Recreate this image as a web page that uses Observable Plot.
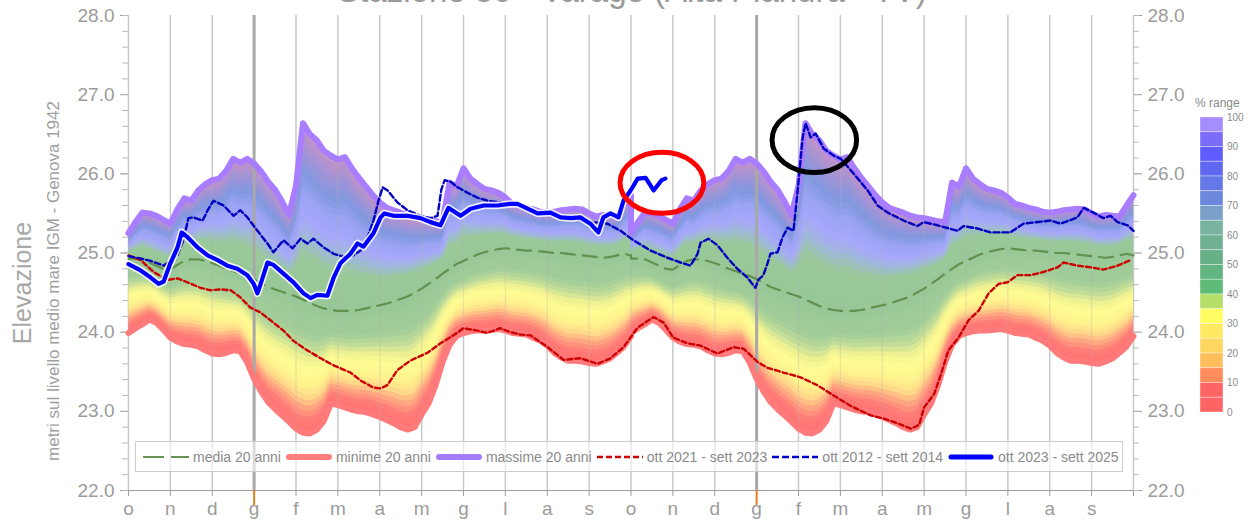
<!DOCTYPE html>
<html><head><meta charset="utf-8">
<script src="https://cdn.jsdelivr.net/npm/d3@7"></script>
<script src="https://cdn.jsdelivr.net/npm/@observablehq/plot@0.6"></script>
<style>
body{margin:0;background:#fff;font-family:'Liberation Sans',Arial,sans-serif;}
#wrap{position:relative;width:1251px;height:522px;overflow:hidden;background:#fff;}
#wrap > svg.plot{position:absolute;left:0;top:0;}
.ov{position:absolute;left:0;top:0;pointer-events:none;}
#legend{position:absolute;left:135px;top:441px;width:988px;height:31px;border:1px solid #cdcdcd;background:rgba(255,255,255,0.6);display:flex;align-items:center;padding-left:7px;box-sizing:border-box;font-size:14px;color:#8a8a8a;white-space:nowrap;}
#legend .it{display:flex;align-items:center;margin-right:5px;}
#legend svg{margin-right:4px;}
</style></head>
<body><div id="wrap"></div>
<script>
// ---------- data ----------
const monthLabels = ["o","n","d","g","f","m","a","m","g","l","a","s","o","n","d","g","f","m","a","m","g","l","a","s"];
const monthTicks = d3.range(0, 25);
const janTicks = [3, 15];
const yTicks = [22, 23, 24, 25, 26, 27, 28];
const yMinor = d3.range(22, 28.001, 0.2);

// 20-year climatology (one hydrological year, every 1/6 month), repeated on both years
const climMonths = d3.range(0, 73).map(k => k / 6);
const climMax = [25.25,25.39,25.51,25.50,25.47,25.42,25.37,25.55,25.69,25.66,25.79,25.87,25.92,25.94,26.04,26.19,26.14,26.19,26.13,26.03,25.90,25.80,25.65,25.48,25.85,26.64,26.50,26.42,26.29,26.23,26.18,26.21,26.07,25.95,25.84,25.73,25.64,25.57,25.54,25.51,25.47,25.45,25.44,25.42,25.40,25.39,25.89,25.84,26.07,25.94,25.87,25.81,25.79,25.76,25.70,25.62,25.60,25.57,25.55,25.52,25.51,25.52,25.54,25.55,25.56,25.55,25.50,25.46,25.48,25.47,25.46,25.60,25.73];
const climMin = [23.99,24.05,24.10,24.16,24.12,24.03,23.93,23.88,23.85,23.84,23.82,23.77,23.73,23.72,23.74,23.77,23.76,23.62,23.41,23.25,23.12,23.03,22.95,22.87,22.78,22.73,22.72,22.77,22.88,23.10,23.08,23.05,23.02,23.00,22.99,22.96,22.93,22.89,22.85,22.80,22.77,22.80,22.96,23.10,23.33,23.62,23.84,23.95,23.99,24.01,24.02,24.02,24.03,24.04,24.02,23.99,23.98,23.97,23.93,23.89,23.83,23.74,23.68,23.64,23.64,23.63,23.61,23.60,23.63,23.67,23.74,23.82,23.95];
const climMean = [24.93,24.93,24.92,24.88,24.84,24.80,24.79,24.85,24.90,24.92,24.92,24.90,24.87,24.84,24.80,24.77,24.74,24.71,24.67,24.62,24.57,24.54,24.51,24.48,24.45,24.41,24.37,24.33,24.30,24.28,24.27,24.27,24.27,24.28,24.30,24.32,24.34,24.36,24.39,24.42,24.45,24.50,24.55,24.61,24.67,24.74,24.80,24.86,24.90,24.94,24.98,25.01,25.03,25.05,25.06,25.05,25.04,25.03,25.03,25.02,25.01,25.00,25.00,24.99,24.98,24.97,24.96,24.95,24.94,24.95,24.97,24.99,24.97];

// ott 2021 - sett 2023
const y2123M = [0,0.29,0.60,0.93,1.17,1.41,1.72,1.96,2.20,2.44,2.67,2.91,3.15,3.39,3.70,3.94,4.27,4.59,4.90,5.30,5.54,5.85,6.02,6.18,6.42,6.73,7.14,7.45,7.76,8.00,8.33,8.57,8.88,9.12,9.36,9.60,10.01,10.39,10.79,11.20,11.51,11.82,12.16,12.54,12.78,13.01,13.35,13.66,14.06,14.45,14.69,15.03,15.26,15.64,16.05,16.45,16.84,17.24,17.72,18.03,18.36,18.69,18.88,19.00,19.24,19.41,19.58,19.82,20.06,20.30,20.54,20.78,20.99,21.23,21.54,21.85,22.19,22.33,22.66,22.97,23.28,23.62,23.93];
const y2123V = [24.97,24.91,24.76,24.66,24.68,24.63,24.56,24.53,24.54,24.53,24.44,24.31,24.25,24.15,24.02,23.89,23.77,23.67,23.58,23.49,23.39,23.30,23.29,23.33,23.52,23.64,23.74,23.86,23.96,24.05,24.02,23.99,24.05,24.00,23.97,23.96,23.81,23.65,23.67,23.60,23.67,23.81,24.06,24.19,24.12,23.93,23.86,23.83,23.73,23.81,23.79,23.62,23.55,23.49,23.43,23.33,23.20,23.07,22.95,22.91,22.85,22.78,22.83,23.05,23.22,23.48,23.77,23.93,24.15,24.27,24.49,24.61,24.63,24.72,24.72,24.76,24.82,24.88,24.84,24.82,24.79,24.84,24.91];

// ott 2012 - sett 2014
const y1214M = [0,0.29,0.53,0.84,1.17,1.31,1.43,1.55,1.77,1.89,2.03,2.27,2.51,2.67,2.84,3.08,3.32,3.46,3.70,3.92,4.11,4.27,4.42,4.66,4.90,5.23,5.37,5.54,5.71,5.85,5.97,6.07,6.19,6.42,6.66,6.97,7.21,7.38,7.47,7.55,7.69,7.86,8.10,8.33,8.57,8.88,9.36,9.67,10.48,11.10,11.44,11.75,12.06,12.47,12.87,13.18,13.42,13.59,13.66,13.85,14.06,14.30,14.54,14.78,14.97,15.04,15.16,15.26,15.33,15.50,15.62,15.74,15.88,15.98,16.10,16.17,16.29,16.41,16.60,16.84,17.01,17.32,17.65,17.89,18.13,18.51,18.84,18.99,19.32,19.80,19.94,20.27,20.59,21.06,21.37,22.02,22.26,22.66,22.81,23.04,23.28,23.45,23.62,23.86,24.00];
const y1214V = [24.96,24.93,24.90,24.84,24.97,25.16,25.44,25.45,25.41,25.54,25.66,25.60,25.47,25.54,25.45,25.28,25.12,25.01,25.16,25.06,25.18,25.12,25.18,25.07,24.99,24.94,24.97,25.03,25.20,25.41,25.66,25.83,25.79,25.64,25.54,25.47,25.44,25.47,25.80,25.92,25.90,25.83,25.76,25.70,25.66,25.64,25.60,25.51,25.45,25.39,25.37,25.28,25.16,25.03,24.94,24.88,24.84,24.99,25.13,25.18,25.10,24.94,24.80,24.69,24.56,24.66,24.72,24.87,24.99,25.01,25.20,25.32,25.28,25.79,26.46,26.64,26.46,26.51,26.32,26.23,26.19,26.00,25.79,25.60,25.51,25.41,25.34,25.39,25.35,25.28,25.34,25.31,25.26,25.26,25.37,25.41,25.37,25.45,25.57,25.51,25.44,25.47,25.39,25.35,25.28];

// ott 2023 - sett 2025
const y2325M = [0,0.29,0.53,0.72,0.84,1.00,1.17,1.27,1.41,1.65,1.89,2.13,2.36,2.60,2.84,2.99,3.08,3.15,3.32,3.46,3.70,3.94,4.18,4.35,4.51,4.75,4.90,5.06,5.30,5.47,5.61,5.85,6.02,6.11,6.33,6.66,6.97,7.21,7.45,7.64,7.93,8.17,8.48,8.81,9.12,9.29,9.53,9.77,10.08,10.32,10.56,10.79,11.03,11.22,11.34,11.51,11.70,11.82,11.99,12.16,12.35,12.54,12.73,12.82];
const y2325V = [24.86,24.78,24.69,24.61,24.64,24.87,25.07,25.26,25.20,25.07,24.97,24.91,24.84,24.80,24.72,24.61,24.49,24.60,24.88,24.85,24.74,24.63,24.49,24.43,24.47,24.46,24.69,24.87,24.99,25.12,25.08,25.25,25.45,25.50,25.47,25.47,25.44,25.39,25.35,25.57,25.47,25.56,25.60,25.60,25.62,25.62,25.56,25.50,25.51,25.45,25.44,25.45,25.37,25.26,25.45,25.50,25.45,25.66,25.79,25.94,25.95,25.79,25.92,25.94];

// annotation ellipses (centre month, centre elevation, radii)
const annotations = [
  {m: 12.75, v: 25.88, rm: 1.0, rv: 0.385, color: "#ff0000"},
  {m: 16.39, v: 26.42, rm: 1.01, rv: 0.41, color: "#000000"}
];

const rangeColors = ["#a58cff","#7b6cfa","#5e5cff","#5e68f0","#6478e8","#6c88dc","#78a0c8","#78b4a0","#70b090","#68b088","#62b480","#5ebc78","#b4e06a","#ffff64","#ffe862","#ffd660","#ffbe5c","#ff8c5a","#ff6464","#ff6464"];
const rangeLabels = ["100","90","80","70","60","50","40","30","20","10","0"];

const legendItems = [
  {label: "media 20 anni", stroke: "#6a9456", width: 2, dash: "21,7", cap: "butt"},
  {label: "minime 20 anni", stroke: "#ff7f7f", width: 6, dash: null, cap: "round"},
  {label: "massime 20 anni", stroke: "#a57bff", width: 6, dash: null, cap: "round"},
  {label: "ott 2021 - sett 2023", stroke: "#cc0000", width: 2.5, dash: "6,3", cap: "butt"},
  {label: "ott 2012 - sett 2014", stroke: "#0000cc", width: 2.5, dash: "7,3", cap: "butt"},
  {label: "ott 2023 - sett 2025", stroke: "#0000ff", width: 5, dash: null, cap: "round"}
];

// ---------- build tables ----------
const zip = (M, V) => M.map((m, i) => ({m, v: V[i]}));
const clim = [];
for (let yr = 0; yr < 2; yr++) {
  climMonths.forEach((cm, k) => clim.push({m: yr * 12 + cm, max: climMax[k], min: climMin[k], mean: climMean[k]}));
}
const s2123 = zip(y2123M, y2123V);
const s1214 = zip(y1214M, y1214V);
const s2325 = zip(y2325M, y2325V);

// ---------- band colouring ----------
const lowerStops = [[0,"#ff7070"],[0.1,"#ff7c78"],[0.18,"#ffa080"],[0.27,"#ffd88a"],[0.36,"#fff48e"],[0.48,"#fffb94"],[0.56,"#eef292"],[0.64,"#c4de98"],[0.74,"#a2cd99"],[1,"#98c898"]];
const upperStops = [[0,"#98c898"],[0.26,"#9aca9a"],[0.37,"#a0b8d8"],[0.47,"#a8a8fa"],[0.6,"#9ca4f4"],[0.72,"#8098e0"],[0.84,"#9c94d8"],[0.93,"#b692cc"],[1,"#c496c8"]];
const mk = st => d3.scaleLinear().domain(st.map(s => s[0])).range(st.map(s => s[1])).interpolate(d3.interpolateRgb);
const lowerColor = mk(lowerStops), upperColor = mk(upperStops);
const NL = 24;
const band = [];
for (let i = 0; i < NL; i++) {
  const t = i / NL;
  band.push(Plot.areaY(clim, {x: "m", y1: d => d.min + t * (d.mean - d.min), y2: "max", fill: lowerColor(t + 0.5 / NL)}));
}
for (let i = 0; i < NL; i++) {
  const t = i / NL;
  band.push(Plot.areaY(clim, {x: "m", y1: d => d.mean + t * (d.max - d.mean), y2: "max", fill: upperColor(t + 0.5 / NL)}));
}

const ellipseMark = (index, scales) => {
  const g = d3.create("svg:g");
  for (const e of annotations) {
    const cx = scales.x(e.m), cy = scales.y(e.v);
    const rx = Math.abs(scales.x(e.m + e.rm) - cx), ry = Math.abs(scales.y(e.v + e.rv) - cy);
    g.append("ellipse").attr("cx", cx).attr("cy", cy).attr("rx", rx).attr("ry", ry)
      .attr("fill", "none").attr("stroke", e.color).attr("stroke-width", 5);
  }
  return g.node();
};

const yDom = [22, 28];
const chart = Plot.plot({
  width: 1251, height: 522,
  marginLeft: 128, marginRight: 118, marginTop: 15, marginBottom: 32,
  style: {fontFamily: "'Liberation Sans', Arial, sans-serif", fontSize: "19px", color: "#9c9c9c", background: "transparent"},
  x: {domain: [0, 24], ticks: monthTicks, tickFormat: i => monthLabels[i] ?? "", tickSize: 6, tickPadding: 5, line: true, label: null},
  y: {domain: yDom, ticks: yTicks, tickFormat: d => d.toFixed(1), tickSize: 8, tickPadding: 6, axis: "both", line: true, label: null},
  marks: [
    Plot.ruleX(monthTicks, {stroke: "#d4d4d4", strokeWidth: 1.5}),
    ...band,
    Plot.ruleX(monthTicks, {stroke: "#b0b0b0", strokeOpacity: 0.3, strokeWidth: 1.2}),
    Plot.ruleX(janTicks, {stroke: "#a8a8a8", strokeWidth: 3}),
    Plot.ruleY(yMinor, {x1: 0, x2: -0.14, stroke: "#b8b8b8"}),
    Plot.ruleY(yMinor, {x1: 24, x2: 24.14, stroke: "#b8b8b8"}),
    Plot.ruleX(janTicks, {y1: yDom[0], y2: yDom[0] - 0.19, stroke: "#e8801a", strokeWidth: 2}),
    Plot.line(clim, {x: "m", y: "max", stroke: "#a87dff", strokeWidth: 6, strokeLinejoin: "round", strokeLinecap: "round"}),
    Plot.line(clim, {x: "m", y: "min", stroke: "#ff7b7b", strokeWidth: 6, strokeLinejoin: "round", strokeLinecap: "round"}),
    Plot.line(clim, {x: "m", y: "mean", stroke: "#64904e", strokeWidth: 2.2, strokeDasharray: "14,8"}),
    Plot.line(s2123, {x: "m", y: "v", stroke: "#cc0000", strokeWidth: 2.4, strokeDasharray: "5,3"}),
    Plot.line(s1214, {x: "m", y: "v", stroke: "#0000c0", strokeWidth: 2.4, strokeDasharray: "6,3"}),
    Plot.line(s2325, {x: "m", y: "v", stroke: "white", strokeWidth: 7.5, strokeOpacity: 0.85, strokeLinejoin: "round"}),
    Plot.line(s2325, {x: "m", y: "v", stroke: "#0000ff", strokeWidth: 4.2, strokeLinejoin: "round", strokeLinecap: "round"}),
    ellipseMark
  ]
});
chart.classList.add("plot");
const wrap = document.getElementById("wrap");
wrap.appendChild(chart);

// ---------- overlays: title, axis titles ----------
const ov = d3.select(wrap).append("svg").attr("class", "ov").attr("width", 1251).attr("height", 522);
ov.append("text").attr("x", 632).attr("y", 2).attr("text-anchor", "middle")
  .attr("font-size", 33).attr("fill", "#9a9a9a").text("Stazione 50 - Varago (Alta Pianura - TV)");
ov.append("text").attr("transform", "translate(31,283) rotate(-90)").attr("text-anchor", "middle")
  .attr("font-size", 25).attr("fill", "#a8a8a8").text("Elevazione");
ov.append("text").attr("transform", "translate(59,281) rotate(-90)").attr("text-anchor", "middle")
  .attr("font-size", 17).attr("fill", "#a0a0a0").text("metri sul livello medio mare IGM - Genova 1942");

// colour bar
const cbTop = 117, cbLeft = 1200, cbW = 23, cbH = 295;
const segH = cbH / rangeColors.length;
ov.append("text").attr("x", 1195).attr("y", 107).attr("font-size", 12).attr("fill", "#8a8a8a").text("% range");
rangeColors.forEach((c, i) => {
  ov.append("rect").attr("x", cbLeft).attr("y", cbTop + i * segH).attr("width", cbW).attr("height", segH)
    .attr("fill", c).attr("stroke", "rgba(255,255,255,0.45)").attr("stroke-width", 0.8);
});
rangeLabels.forEach((l, i) => {
  ov.append("text").attr("x", 1227).attr("y", cbTop + i * segH * 2 + 3.5).attr("font-size", 10).attr("fill", "#8a8a8a").text(l);
});

// legend
const lg = d3.select(wrap).append("div").attr("id", "legend");
legendItems.forEach(it => {
  const d = lg.append("div").attr("class", "it");
  const s = d.append("svg").attr("width", 46).attr("height", 10);
  const ln = s.append("line").attr("x1", it.cap === "round" ? 3 : 0).attr("x2", it.cap === "round" ? 43 : 46)
    .attr("y1", 5).attr("y2", 5).attr("stroke", it.stroke).attr("stroke-width", it.width).attr("stroke-linecap", it.cap);
  if (it.dash) ln.attr("stroke-dasharray", it.dash);
  d.append("span").text(it.label);
});
</script></body></html>
